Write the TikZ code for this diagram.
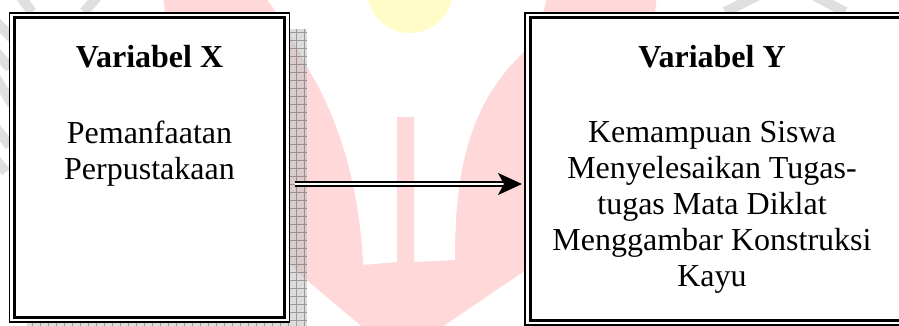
\documentclass[tikz,border=0pt]{standalone}
\usepackage{fontspec}
\setmainfont{Liberation Serif}
\usetikzlibrary{arrows.meta, positioning, backgrounds}

\begin{document}
\begin{tikzpicture}[
    x=0.5pt, y=-0.5pt,
    node distance=26pt,
    frame/.style={rectangle, draw, fill=white, line width=0.75pt, inner sep=0pt, outer sep=0pt},
    inframe/.style={line width=1.5pt},
    boxshadow/.style={fill=gray!50, opacity=0.55},
    shadegrid/.style={draw=gray!70!black, line width=0.3pt, opacity=0.5},
    title/.style={font=\fontsize{16}{18}\selectfont\bfseries, inner sep=0pt},
    body/.style={font=\fontsize{16}{18}\selectfont, align=center, inner sep=0pt},
    link/.style={double, double distance=1.1pt, line width=1.1pt, shorten >=1.5pt,
                 -{Stealth[length=12pt, width=11pt, inset=3pt]}},
    wmred/.style={fill=red!15},
    wmsun/.style={fill=yellow!22},
    wmgray/.style={draw=gray!25, line width=5pt},
  ]
    \useasboundingbox (0,0) rectangle (899,326);
    % the two variables
    \node[frame, minimum width=140pt, minimum height=154.5pt] (varx) at (149.5,167.5) {};
    \node[frame, minimum width=212.5pt, minimum height=156pt] (vary) at (737.5,169) {};
    \draw[inframe] ([shift={(5,5)}]varx.north west) rectangle ([shift={(-5,-5)}]varx.south east);
    \draw[inframe] ([shift={(5,5)}]vary.north west) rectangle ([shift={(-5,-5)}]vary.south east);
    \node[title, anchor=base] (titlex) at ([yshift=-27.5pt]varx.north) {Variabel X};
    \node[body, below=of titlex] (bodyx) {Pemanfaatan\\Perpustakaan};
    \node[title, anchor=base] (titley) at ([shift={(-12.75pt,-27.5pt)}]vary.north) {Variabel Y};
    \node[body, below=of titley] (bodyy)
      {Kemampuan Siswa\\Menyelesaikan Tugas-\\tugas Mata Diklat\\Menggambar Konstruksi\\Kayu};
    \coordinate (start) at ([shift={(5.5,16.5)}]varx.east);
    \draw[link] (start) -- (start -| vary.west);
    % watermark and shadows behind
    \begin{scope}[on background layer]
      \fill[wmsun] (410,-10) circle[radius=21.5pt];
      \fill[wmred] (163,-5) -- (264,-5) .. controls (285,25) .. (307,67)
        .. controls (340,120) and (360,190) .. (363,265) -- (397,262) -- (397,117)
        -- (414,117) -- (414,262) -- (455,260)
        .. controls (455,190) and (462,110) .. (523,53) .. controls (538,30) .. (548,-5)
        -- (657,-5) .. controls (640,150) .. (523,272) -- (398,357) -- (303,277)
        .. controls (180,150) .. (163,-5) -- cycle;
      \draw[wmgray] (20,-4) -- (32,12) (98,-4) -- (84,12)
        (-4,22) -- (12,38) (-4,52) -- (10,68) (-4,78) -- (12,104)
        (-4,128) -- (10,146) (-4,160) -- (6,172)
        (757,-4) -- (725,12) (815,-4) -- (845,12);
      \fill[boxshadow] ([shift={(17,16)}]varx.north west) rectangle ([shift={(17,16)}]varx.south east);
      \draw[shadegrid, step=4pt] ([shift={(17,16)}]varx.north west) grid ([shift={(17,16)}]varx.south east);
      \fill[boxshadow] ([shift={(17,16)}]vary.north west) rectangle ([shift={(17,16)}]vary.south east);
      \draw[shadegrid, step=4pt] ([shift={(17,16)}]vary.north west) grid ([shift={(17,16)}]vary.south east);
    \end{scope}
\end{tikzpicture}
\end{document}
